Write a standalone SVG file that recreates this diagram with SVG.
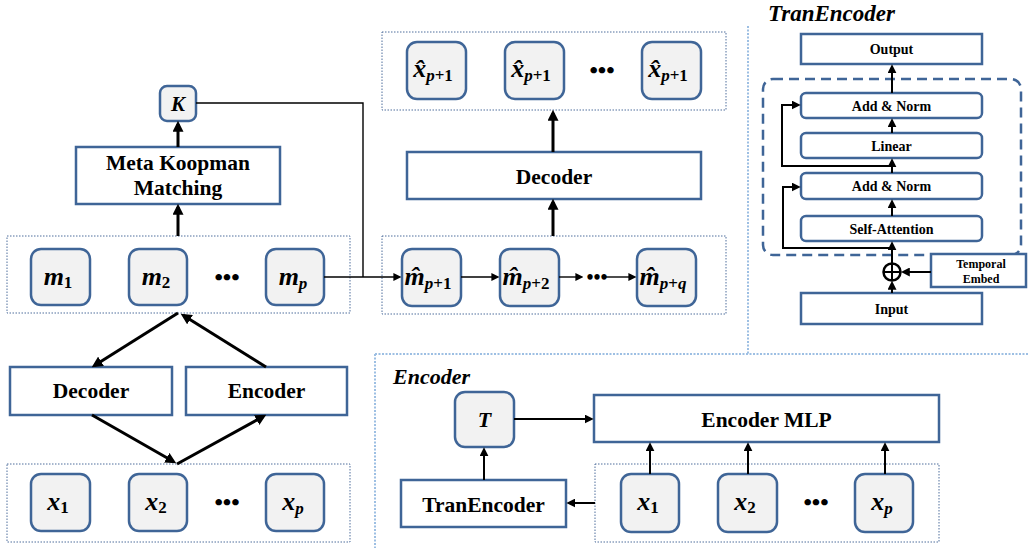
<svg xmlns="http://www.w3.org/2000/svg" width="1028" height="548" viewBox="0 0 1028 548">
<style>
.box{fill:#fff;stroke:#3F6597;stroke-width:2.5}
.node{fill:#F2F2F2;stroke:#3F6597;stroke-width:2.5}
.grp{fill:none;stroke:#4F6E9C;stroke-width:1;stroke-dasharray:1.5 1.5}
.sep{fill:none;stroke:#9DBFE3;stroke-width:2;stroke-dasharray:2 1.5}
.lbl{font-family:"Liberation Serif","Times New Roman",serif;font-weight:bold;fill:#000}
.math{font-family:"Liberation Serif","Times New Roman",serif;font-weight:bold;font-style:italic;fill:#000}
.ttl{font-family:"Liberation Serif","Times New Roman",serif;font-weight:bold;font-style:italic;fill:#000}
.dots{font-family:"Liberation Serif",serif;font-weight:bold;fill:#000}
.thick{stroke:#000;stroke-width:3;fill:none}
.mid{stroke:#000;stroke-width:2;fill:none}
.thin{stroke:#000;stroke-width:1.4;fill:none}
</style>
<defs>
<marker id="ahB" viewBox="0 0 10 10" refX="7" refY="5" markerWidth="11" markerHeight="11" markerUnits="userSpaceOnUse" orient="auto"><path d="M0,0 L10,5 L0,10 z" fill="#000"/></marker>
<marker id="ahM" viewBox="0 0 10 10" refX="7" refY="5" markerWidth="9" markerHeight="9" markerUnits="userSpaceOnUse" orient="auto"><path d="M0,0 L10,5 L0,10 z" fill="#000"/></marker>
<marker id="ahS" viewBox="0 0 10 10" refX="7" refY="5" markerWidth="8" markerHeight="8" markerUnits="userSpaceOnUse" orient="auto"><path d="M0,0 L10,5 L0,10 z" fill="#000"/></marker>
</defs>

<!-- separators -->
<g id="separators">
<line class="sep" x1="748" y1="26" x2="748" y2="354"/>
<line class="sep" x1="375" y1="354" x2="1028" y2="354"/>
<line class="sep" x1="375" y1="354" x2="375" y2="548"/>
</g>

<!-- group containers -->
<g id="containers">
<rect class="grp" x="7" y="236" width="343" height="77"/>
<rect class="grp" x="7" y="464" width="343" height="78"/>
<rect class="grp" x="382" y="32" width="344" height="78"/>
<rect class="grp" x="382" y="236" width="344" height="78"/>
<rect class="grp" x="595" y="464" width="344" height="78"/>
</g>

<!-- left column -->
<g id="node-K"><rect class="node" x="160" y="86" width="36" height="35" rx="7"/><text class="math" x="178" y="111" font-size="21" text-anchor="middle">K</text></g>
<g id="node-meta"><rect class="box" x="76" y="147" width="204" height="57"/><text class="lbl" x="178" y="170" font-size="21.5" text-anchor="middle">Meta Koopman</text><text class="lbl" x="178" y="195" font-size="21.5" text-anchor="middle">Matching</text></g>
<g id="node-m1"><rect class="node" x="31" y="249" width="59" height="56" rx="10"/><text class="math" x="58" y="285" font-size="26" text-anchor="middle">m<tspan font-size="17" dy="3" font-style="normal">1</tspan></text></g>
<g id="node-m2"><rect class="node" x="129" y="249" width="58" height="56" rx="10"/><text class="math" x="156" y="285" font-size="26" text-anchor="middle">m<tspan font-size="17" dy="3" font-style="normal">2</tspan></text></g>
<text id="dots-m" class="dots" x="227" y="285" font-size="24" text-anchor="middle">•••</text>
<g id="node-mp"><rect class="node" x="266" y="249" width="58" height="56" rx="10"/><text class="math" x="293" y="285" font-size="26" text-anchor="middle">m<tspan font-size="17" dy="4">p</tspan></text></g>

<g id="node-decoder-l"><rect class="box" x="10" y="367" width="162" height="48"/><text class="lbl" x="91" y="398" font-size="21.5" text-anchor="middle">Decoder</text></g>
<g id="node-encoder-l"><rect class="box" x="186" y="367" width="161" height="48"/><text class="lbl" x="266.5" y="398" font-size="21.5" text-anchor="middle">Encoder</text></g>

<g id="node-x1"><rect class="node" x="31" y="474" width="59" height="57" rx="10"/><text class="math" x="58" y="510" font-size="26" text-anchor="middle">x<tspan font-size="17" dy="3" font-style="normal">1</tspan></text></g>
<g id="node-x2"><rect class="node" x="129" y="474" width="58" height="57" rx="10"/><text class="math" x="156" y="510" font-size="26" text-anchor="middle">x<tspan font-size="17" dy="3" font-style="normal">2</tspan></text></g>
<text id="dots-x" class="dots" x="227" y="510" font-size="24" text-anchor="middle">•••</text>
<g id="node-xp"><rect class="node" x="266" y="474" width="58" height="57" rx="10"/><text class="math" x="293" y="510" font-size="26" text-anchor="middle">x<tspan font-size="17" dy="4">p</tspan></text></g>

<!-- middle column -->
<g id="node-xh1"><rect class="node" x="407" y="42" width="59" height="57" rx="10"/><text class="math" x="433" y="77" font-size="26" text-anchor="middle">x̂<tspan font-size="17" dy="4">p</tspan><tspan font-size="17" font-style="normal">+1</tspan></text></g>
<g id="node-xh2"><rect class="node" x="505" y="42" width="59" height="57" rx="10"/><text class="math" x="531" y="77" font-size="26" text-anchor="middle">x̂<tspan font-size="17" dy="4">p</tspan><tspan font-size="17" font-style="normal">+1</tspan></text></g>
<text id="dots-xh" class="dots" x="602" y="78" font-size="24" text-anchor="middle">•••</text>
<g id="node-xh3"><rect class="node" x="642" y="42" width="59" height="57" rx="10"/><text class="math" x="668" y="77" font-size="26" text-anchor="middle">x̂<tspan font-size="17" dy="4">p</tspan><tspan font-size="17" font-style="normal">+1</tspan></text></g>

<g id="node-decoder-m"><rect class="box" x="407" y="152" width="294" height="47"/><text class="lbl" x="554" y="184" font-size="21.5" text-anchor="middle">Decoder</text></g>

<g id="node-mh1"><rect class="node" x="402" y="249" width="59" height="57" rx="10"/><text class="math" x="428" y="285" font-size="26" text-anchor="middle">m̂<tspan font-size="17" dy="4">p</tspan><tspan font-size="17" font-style="normal">+1</tspan></text></g>
<g id="node-mh2"><rect class="node" x="500" y="249" width="59" height="57" rx="10"/><text class="math" x="526" y="285" font-size="26" text-anchor="middle">m̂<tspan font-size="17" dy="4">p</tspan><tspan font-size="17" font-style="normal">+2</tspan></text></g>
<text id="dots-mh" class="dots" x="597" y="284" font-size="20" text-anchor="middle">•••</text>
<g id="node-mh3"><rect class="node" x="637" y="249" width="59" height="57" rx="10"/><text class="math" x="663" y="285" font-size="26" text-anchor="middle">m̂<tspan font-size="17" dy="4">p</tspan><tspan font-size="17" font-style="normal">+</tspan><tspan font-size="17">q</tspan></text></g>

<!-- TranEncoder panel -->
<text id="title-tranencoder" class="ttl" x="768" y="21" font-size="23">TranEncoder</text>
<rect id="tran-block" x="763" y="79" width="258" height="176" rx="10" fill="none" stroke="#3F6597" stroke-width="2.5" stroke-dasharray="10 6"/>
<g id="node-output"><rect class="box" x="801" y="34" width="181" height="30"/><text class="lbl" x="891.5" y="54" font-size="14" text-anchor="middle">Output</text></g>
<g id="node-addnorm2"><rect class="box" x="801" y="93" width="181" height="25" rx="5"/><text class="lbl" x="891.5" y="110.5" font-size="14" text-anchor="middle">Add &amp; Norm</text></g>
<g id="node-linear"><rect class="box" x="801" y="133" width="181" height="25" rx="5"/><text class="lbl" x="891.5" y="150.5" font-size="14" text-anchor="middle">Linear</text></g>
<g id="node-addnorm1"><rect class="box" x="801" y="173" width="181" height="26" rx="5"/><text class="lbl" x="891.5" y="191" font-size="14" text-anchor="middle">Add &amp; Norm</text></g>
<g id="node-selfattn"><rect class="box" x="801" y="216" width="181" height="25" rx="5"/><text class="lbl" x="891.5" y="233.5" font-size="14" text-anchor="middle">Self-Attention</text></g>
<g id="node-input"><rect class="box" x="801" y="293" width="181" height="31"/><text class="lbl" x="891.5" y="314" font-size="14" text-anchor="middle">Input</text></g>
<g id="node-temporal"><rect class="box" x="931" y="254" width="95" height="33"/><text class="lbl" x="981" y="268" font-size="12" text-anchor="middle">Temporal</text><text class="lbl" x="981" y="283" font-size="12" text-anchor="middle">Embed</text></g>
<g id="node-sum"><circle cx="892" cy="272" r="8.5" fill="#fff" stroke="#000" stroke-width="2.5"/><line x1="883.5" y1="272" x2="900.5" y2="272" stroke="#000" stroke-width="2"/><line x1="892" y1="263.5" x2="892" y2="280.5" stroke="#000" stroke-width="2"/></g>

<!-- Encoder panel -->
<text id="title-encoder" class="ttl" x="393" y="384" font-size="22">Encoder</text>
<g id="node-T"><rect class="node" x="455" y="392" width="59" height="55" rx="10"/><text class="math" x="484.5" y="427" font-size="22" text-anchor="middle">T</text></g>
<g id="node-mlp"><rect class="box" x="594" y="395" width="345" height="47"/><text class="lbl" x="766.5" y="427" font-size="21.5" text-anchor="middle">Encoder MLP</text></g>
<g id="node-tran"><rect class="box" x="401" y="480" width="165" height="47"/><text class="lbl" x="483.5" y="512" font-size="21.5" text-anchor="middle">TranEncoder</text></g>
<g id="node-ex1"><rect class="node" x="621" y="474" width="58" height="58" rx="10"/><text class="math" x="648" y="510" font-size="26" text-anchor="middle">x<tspan font-size="17" dy="3" font-style="normal">1</tspan></text></g>
<g id="node-ex2"><rect class="node" x="718" y="474" width="59" height="58" rx="10"/><text class="math" x="745" y="510" font-size="26" text-anchor="middle">x<tspan font-size="17" dy="3" font-style="normal">2</tspan></text></g>
<text id="dots-ex" class="dots" x="816" y="510" font-size="24" text-anchor="middle">•••</text>
<g id="node-exp"><rect class="node" x="855" y="474" width="58" height="58" rx="10"/><text class="math" x="882" y="510" font-size="26" text-anchor="middle">x<tspan font-size="17" dy="4">p</tspan></text></g>

<!-- connectors -->
<g id="connectors">
<line class="thick" x1="178" y1="147" x2="178" y2="124" marker-end="url(#ahB)"/>
<line class="thick" x1="178" y1="236" x2="178" y2="207" marker-end="url(#ahB)"/>
<polyline class="thin" points="196,103 363,103 363,277"/>
<line class="thin" x1="324" y1="277" x2="399" y2="277" marker-end="url(#ahS)"/>
<line class="thin" x1="461" y1="277" x2="497" y2="277" marker-end="url(#ahS)"/>
<line class="thin" x1="559" y1="277" x2="581" y2="277" marker-end="url(#ahS)"/>
<line class="thin" x1="606" y1="277" x2="634" y2="277" marker-end="url(#ahS)"/>
<line class="thick" x1="553" y1="152" x2="553" y2="113" marker-end="url(#ahB)"/>
<line class="thick" x1="553" y1="236" x2="553" y2="202" marker-end="url(#ahB)"/>
<line class="thick" x1="178" y1="313" x2="94.5" y2="365.4" marker-end="url(#ahB)"/>
<line class="thick" x1="266" y1="367" x2="183.5" y2="315.6" marker-end="url(#ahB)"/>
<line class="thick" x1="92" y1="415" x2="173.4" y2="461.5" marker-end="url(#ahB)"/>
<line class="thick" x1="177" y1="464" x2="263.4" y2="416.4" marker-end="url(#ahB)"/>
<!-- TranEncoder -->
<line class="mid" x1="892" y1="93" x2="892" y2="67" marker-end="url(#ahM)"/>
<line class="mid" x1="892" y1="133" x2="892" y2="121" marker-end="url(#ahM)"/>
<line class="mid" x1="892" y1="173" x2="892" y2="161" marker-end="url(#ahM)"/>
<line class="mid" x1="892" y1="216" x2="892" y2="202" marker-end="url(#ahM)"/>
<line class="mid" x1="892" y1="263.5" x2="892" y2="244" marker-end="url(#ahM)"/>
<line class="mid" x1="892" y1="293" x2="892" y2="283.5" marker-end="url(#ahM)"/>
<line class="mid" x1="931" y1="272" x2="903.5" y2="272" marker-end="url(#ahM)"/>
<polyline class="mid" points="892,248 783,248 783,187 798,187" marker-end="url(#ahM)"/>
<polyline class="mid" points="892,166 782,166 782,105 798,105" marker-end="url(#ahM)"/>
<!-- Encoder -->
<line class="mid" x1="514" y1="419" x2="591" y2="419" marker-end="url(#ahM)"/>
<line class="mid" x1="484" y1="480" x2="484" y2="450" marker-end="url(#ahM)"/>
<line class="mid" x1="595" y1="503" x2="569" y2="503" marker-end="url(#ahM)"/>
<line class="mid" x1="650" y1="474" x2="650" y2="445" marker-end="url(#ahM)"/>
<line class="mid" x1="748" y1="474" x2="748" y2="445" marker-end="url(#ahM)"/>
<line class="mid" x1="885" y1="474" x2="885" y2="445" marker-end="url(#ahM)"/>
</g>
</svg>
